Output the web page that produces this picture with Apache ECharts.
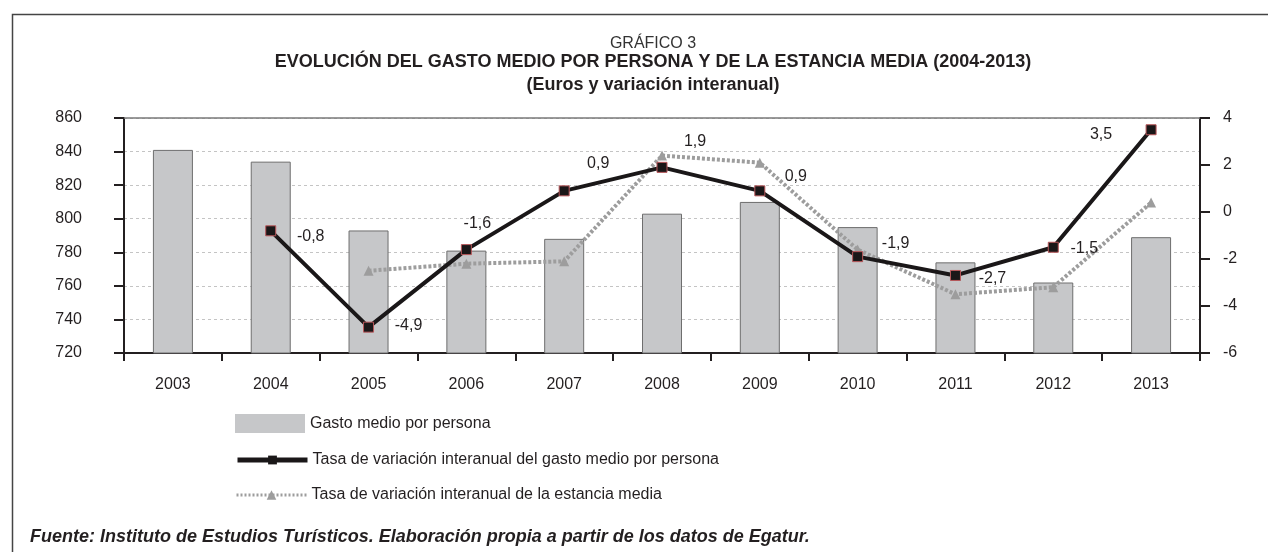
<!DOCTYPE html>
<html>
<head>
<meta charset="utf-8">
<script src="https://cdn.jsdelivr.net/npm/echarts@6/dist/echarts.min.js"></script>
<style>
  html, body { margin: 0; padding: 0; background: #fff; }
  #chart-container { width: 1268px; height: 552px; }
</style>
</head>
<body>
<div id="chart-container"></div>
<script>
const years = ['2003', '2004', '2005', '2006', '2007', '2008', '2009', '2010', '2011', '2012', '2013'];
// euros
const gastoMedio = [841, 834, 793, 781, 788, 803, 810, 795, 774, 762, 789];
// % interanual
const tasaGasto = ['-', -0.8, -4.9, -1.6, 0.9, 1.9, 0.9, -1.9, -2.7, -1.5, 3.5];
const tasaEstancia = ['-', '-', -2.5, -2.2, -2.1, 2.4, 2.1, -1.6, -3.5, -3.2, 0.4];

const FONT = '"Liberation Sans", Arial, sans-serif';
const TXT = '#231f20';

// where each label of the black line sits, relative to its point
const labelOffsets = [null, [40, 6], [40, -2], [11, -26], [34, -27], [33, -26], [36, -14], [38, -13], [37, 3], [31, 1], [-50, 5]];

const fmt = (v) => v.toFixed(1).replace('.', ',');

const dom = document.getElementById('chart-container');
const myChart = echarts.init(dom, null, { renderer: 'canvas' });

const legendText = { fontSize: 16, color: TXT, fontFamily: FONT };

const option = {
  animation: false,
  textStyle: { fontFamily: FONT },
  title: [
    {
      text: 'GRÁFICO 3',
      left: 648, top: 31, textAlign: 'center',
      textStyle: { fontFamily: '"Liberation Sans Narrow", ' + FONT, fontWeight: 'normal', fontSize: 16, color: '#333' },
    },
    {
      text: 'EVOLUCIÓN DEL GASTO MEDIO POR PERSONA Y DE LA ESTANCIA MEDIA (2004-2013)',
      left: 648, top: 48, textAlign: 'center',
      textStyle: { fontFamily: FONT, fontWeight: 'bold', fontSize: 18, color: TXT },
    },
    {
      text: '(Euros y variación interanual)',
      left: 648, top: 71, textAlign: 'center',
      textStyle: { fontFamily: FONT, fontWeight: 'bold', fontSize: 18, color: TXT },
    },
    {
      text: 'Fuente: Instituto de Estudios Turísticos. Elaboración propia a partir de los datos de Egatur.',
      left: 25, top: 523,
      textStyle: { fontFamily: FONT, fontWeight: 'bold', fontStyle: 'italic', fontSize: 18, color: TXT },
    },
  ],
  graphic: [
    {
      type: 'rect',
      shape: { x: 12.5, y: 14.5, width: 1300, height: 600 },
      style: { fill: 'none', stroke: '#444', lineWidth: 1.5 },
      silent: true,
    },
  ],
  legend: [
    {
      data: [{ name: 'Gasto medio por persona', icon: 'rect' }],
      left: 230, top: 409, itemWidth: 70, itemHeight: 19,
      itemStyle: { borderWidth: 0 },
      textStyle: legendText,
    },
    {
      data: ['Tasa de variación interanual del gasto medio por persona'],
      left: 230, top: 447, itemWidth: 70, itemHeight: 11,
      lineStyle: { width: 5 },
      itemStyle: { borderWidth: 0 },
      textStyle: legendText,
    },
    {
      data: ['Tasa de variación interanual de la estancia media'],
      left: 230, top: 482, itemWidth: 70, itemHeight: 12,
      lineStyle: { width: 3, type: [2, 2] },
      textStyle: legendText,
    },
  ],
  grid: { left: 124, right: 68, top: 118, bottom: 199 },
  xAxis: [
    {
      type: 'category',
      data: years,
      axisLine: { onZero: false, lineStyle: { color: '#231f20', width: 2 } },
      axisTick: { show: true, length: 8, lineStyle: { color: '#231f20', width: 2 } },
      axisLabel: { fontSize: 16, color: TXT, margin: 24 },
    },
    {
      type: 'category',
      data: years,
      position: 'top',
      axisLine: { onZero: false, lineStyle: { color: '#7a7a7a', width: 1.5 } },
      axisTick: { show: false },
      axisLabel: { show: false },
    },
  ],
  yAxis: [
    {
      type: 'value',
      min: 720, max: 860, interval: 20,
      axisLine: { show: true, lineStyle: { color: '#231f20', width: 2 } },
      axisTick: { show: true, length: 10, lineStyle: { color: '#231f20', width: 2 } },
      axisLabel: { fontSize: 16, color: TXT, margin: 42 },
      splitLine: { lineStyle: { color: '#c4c4c4', type: [3, 3], width: 1 } },
    },
    {
      type: 'value',
      min: -6, max: 4, interval: 2,
      position: 'right',
      axisLine: { show: true, lineStyle: { color: '#231f20', width: 2 } },
      axisTick: { show: true, length: 10, lineStyle: { color: '#231f20', width: 2 } },
      axisLabel: { fontSize: 16, color: TXT, margin: 23 },
      splitLine: { show: false },
    },
  ],
  series: [
    {
      name: 'Gasto medio por persona',
      type: 'bar',
      data: gastoMedio,
      barWidth: 40,
      itemStyle: { color: '#c6c7c9', borderColor: '#6e6e6e', borderWidth: 1 },
      z: 1,
    },
    {
      name: 'Tasa de variación interanual de la estancia media',
      type: 'line',
      yAxisIndex: 1,
      data: tasaEstancia,
      symbol: 'triangle',
      symbolSize: 10,
      lineStyle: { color: '#9d9d9d', width: 4, type: [3, 2] },
      itemStyle: { color: '#9d9d9d' },
      z: 2,
    },
    {
      name: 'Tasa de variación interanual del gasto medio por persona',
      type: 'line',
      yAxisIndex: 1,
      data: tasaGasto.map((v, i) =>
        v === '-' ? v : { value: v, label: { offset: labelOffsets[i] } }
      ),
      symbol: 'rect',
      symbolSize: 10,
      lineStyle: { color: '#1a1718', width: 4 },
      itemStyle: { color: '#1a1718', borderColor: '#b8575a', borderWidth: 1 },
      label: {
        show: true,
        position: 'inside',
        fontSize: 16,
        color: TXT,
        formatter: (p) => fmt(p.value),
      },
      z: 3,
    },
  ],
};

myChart.setOption(option);
window.addEventListener('resize', myChart.resize);
</script>
</body>
</html>
